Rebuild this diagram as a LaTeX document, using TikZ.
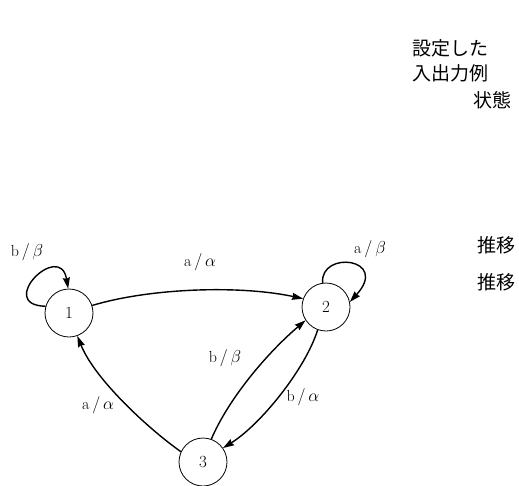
\documentclass[tikz,border=0pt]{standalone}
\usepackage{fontspec}
\newfontfamily\cjk{Noto Sans CJK JP}
\usetikzlibrary{arrows.meta}
\begin{document}
\begin{tikzpicture}[x=1pt,y=-1pt,
  state/.style={circle,draw,line width=0.8pt,minimum size=48pt,inner sep=0pt,font=\fontsize{17}{17}\selectfont},
  edge/.style={line width=1.4pt,-{Stealth[length=11pt,width=7pt,inset=1pt]}},
  lbl/.style={font=\fontsize{16}{16}\selectfont,inner sep=0pt},
  jp/.style={font=\cjk\fontsize{19}{19}\selectfont,anchor=west,inner sep=0pt}]
\useasboundingbox (0,0) rectangle (519,485);
% states
\node[state] (n1) at (69,313) {1};
\node[state] (n2) at (326,307) {2};
\node[state] (n3) at (203,462) {3};
% edges
\draw[edge] (n1.18) .. controls (150,288) and (240,285) .. (n2.160);
\draw[edge] (n1.164) .. controls (-5,305) and (60,240) .. (n1.92);
\draw[edge] (n2.98) .. controls (320,250) and (390,258) .. (n2.12);
\draw[edge] (n3.155) .. controls (150,430) and (95,380) .. (n1.290);
\draw[edge] (n3.70) .. controls (228,400) and (265,355) .. (n2.213);
\draw[edge] (n2.250) .. controls (305,370) and (260,425) .. (n3.35);
% labels
\node[lbl] (l12) at (200,262) {$\mathrm{a}\,/\,\alpha$};
\node[lbl] (l11) at (27,252) {$\mathrm{b}\,/\,\beta$};
\node[lbl] (l22) at (370,249) {$\mathrm{a}\,/\,\beta$};
\node[lbl] (l31) at (98,405) {$\mathrm{a}\,/\,\alpha$};
\node[lbl] (l32) at (225,358) {$\mathrm{b}\,/\,\beta$};
\node[lbl] (l23) at (303,397) {$\mathrm{b}\,/\,\alpha$};
% right texts
\node[jp] (t1) at (412,48) {設定した};
\node[jp] (t2) at (412,73) {入出力例};
\node[jp] (t3) at (473,100) {状態};
\node[jp] (t4) at (477,245) {推移};
\node[jp] (t5) at (477,282) {推移};
\end{tikzpicture}
\end{document}
